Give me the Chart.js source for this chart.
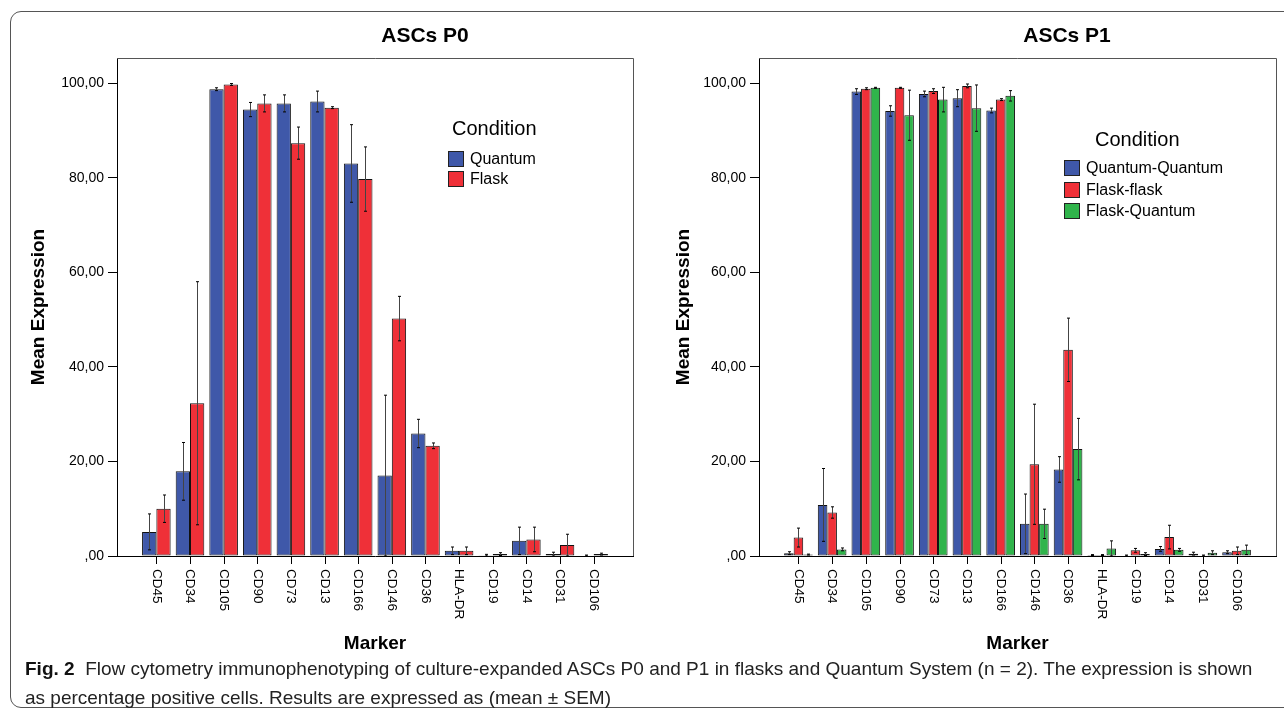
<!DOCTYPE html>
<html>
<head>
<meta charset="utf-8">
<script src="https://cdn.jsdelivr.net/npm/chart.js@4.4.1/dist/chart.umd.min.js"></script>
<style>
  body { margin: 0; background: #fff; width: 1284px; height: 715px; overflow: hidden; position: relative;
         font-family: "Liberation Sans", Arial, sans-serif; color: #000; }
  .frame { position: absolute; left: 10px; top: 11px; width: 1300px; height: 695px;
           border: 1px solid #555; border-radius: 11px; }
  canvas { position: absolute; top: 0; }
  #p0 { left: 0; }
  #p1 { left: 645px; }
  .title { position: absolute; top: 23px; font-weight: bold; font-size: 21px; line-height: 24px;
           transform: translateX(-50%); white-space: nowrap; }
  .lg { position: absolute; white-space: nowrap; }
  .lg-head { font-size: 20px; line-height: 20px; }
  .lg-text { font-size: 16px; line-height: 16px; }
  .lg-box { width: 14px; height: 14px; border: 1px solid #222; }
  .caption { position: absolute; left: 25px; top: 654px; font-family: "Liberation Sans Narrow", "Liberation Sans", sans-serif;
             font-size: 19px; line-height: 29px; color: #222; white-space: nowrap; }
  .caption b { color: #111; }
</style>
</head>
<body>
<div class="frame"></div>
<canvas id="p0" width="645" height="660"></canvas>
<canvas id="p1" width="639" height="660"></canvas>
<div class="title" style="left:425px">ASCs P0</div>
<div class="title" style="left:1067px">ASCs P1</div>
<div class="caption"><b>Fig. 2</b>&nbsp; Flow cytometry immunophenotyping of culture-expanded ASCs P0 and P1 in flasks and Quantum System (n = 2). The expression is shown<br>as percentage positive cells. Results are expressed as (mean ± SEM)</div>

<script>
// markers on the x axis (same for both panels)
const markers = ["CD45", "CD34", "CD105", "CD90", "CD73", "CD13", "CD166", "CD146", "CD36", "HLA-DR", "CD19", "CD14", "CD31", "CD106"];

// ASCs P0 — mean and SEM
const p0Quantum    = [5.1, 17.9, 98.7, 94.4, 95.7, 96.1, 83.0, 17.0, 25.9, 1.1, 0.15, 3.2, 0.4, 0.1];
const p0QuantumErr = [3.8, 6.1, 0.3, 1.5, 1.8, 2.2, 8.2, 17.0, 3.0, 0.8, 0.2, 2.9, 0.4, 0.1];
const p0Flask      = [10.0, 32.3, 99.7, 95.7, 87.3, 94.8, 79.7, 50.2, 23.3, 1.1, 0.4, 3.5, 2.3, 0.4];
const p0FlaskErr   = [2.9, 25.7, 0.2, 1.8, 3.4, 0.2, 6.8, 4.7, 0.6, 0.8, 0.3, 2.6, 2.3, 0.2];

// ASCs P1 — mean and SEM
const p1QQ    = [0.6, 10.8, 98.2, 94.1, 97.7, 96.8, 94.2, 6.8, 18.3, 0.2, 0.1, 1.5, 0.5, 0.8];
const p1QQErr = [0.3, 7.7, 0.6, 1.1, 0.6, 1.8, 0.5, 6.3, 2.7, 0.1, 0.1, 0.5, 0.3, 0.3];
const p1FF    = [3.9, 9.2, 98.8, 99.0, 98.3, 99.4, 96.5, 19.4, 43.6, 0.2, 1.2, 4.0, 0.1, 1.1];
const p1FFErr = [2.0, 1.2, 0.2, 0.1, 0.5, 0.4, 0.2, 12.7, 6.7, 0.1, 0.4, 2.5, 0.1, 0.8];
const p1FQ    = [0.3, 1.4, 99.0, 93.2, 96.5, 94.7, 97.3, 6.8, 22.6, 1.6, 0.4, 1.3, 0.7, 1.3];
const p1FQErr = [0.1, 0.3, 0.1, 5.3, 2.6, 4.9, 1.1, 3.1, 6.5, 1.6, 0.3, 0.3, 0.4, 1.0];

const yTicks = [0, 20, 40, 60, 80, 100];

const BLUE = "#3f58a9", RED = "#ef3038", GREEN = "#30b44b";

const fontFamily = '"Liberation Sans", Arial, sans-serif';
Chart.defaults.font.family = fontFamily;
Chart.defaults.color = "#000";

// mean ± SEM whiskers
const errorBars = {
  id: "errorBars",
  afterDatasetsDraw(chart) {
    const ctx = chart.ctx, y = chart.scales.y;
    ctx.save();
    chart.data.datasets.forEach((ds, i) => {
      const meta = chart.getDatasetMeta(i);
      meta.data.forEach((bar, j) => {
        const v = ds.data[j].y, e = ds.errors[j];
        const top = y.getPixelForValue(v + e);
        const bot = y.getPixelForValue(Math.max(0, v - e));
        const x = Math.round(bar.x) + 0.5;
        ctx.strokeStyle = "#444";
        ctx.lineWidth = 1;
        ctx.beginPath();
        ctx.moveTo(x, top); ctx.lineTo(x, bot);
        ctx.stroke();
        ctx.strokeStyle = "#000";
        ctx.beginPath();
        ctx.moveTo(x - 1.5, top); ctx.lineTo(x + 1.5, top);
        ctx.moveTo(x - 1.5, bot); ctx.lineTo(x + 1.5, bot);
        ctx.stroke();
      });
    });
    ctx.restore();
  }
};

// box round the plot area, x tick marks, and x labels reading downward
const plotFrame = {
  id: "plotFrame",
  afterDraw(chart) {
    const { ctx, chartArea: a } = chart;
    const xs = chart.scales.x;
    ctx.save();
    ctx.strokeStyle = "#555";
    ctx.lineWidth = 1;
    ctx.beginPath();
    ctx.moveTo(a.left, a.top + 0.5); ctx.lineTo(a.right + 0.5, a.top + 0.5);
    ctx.lineTo(a.right + 0.5, a.bottom);
    ctx.stroke();
    ctx.strokeStyle = "#000";
    ctx.beginPath();
    xs.ticks.forEach((t) => {
      const px = Math.round(xs.getPixelForValue(t.value)) + 0.5;
      ctx.moveTo(px, a.bottom); ctx.lineTo(px, a.bottom + 8);
    });
    ctx.stroke();
    ctx.fillStyle = "#000";
    ctx.font = "13.5px " + fontFamily;
    ctx.textAlign = "left";
    ctx.textBaseline = "middle";
    xs.ticks.forEach((t) => {
      const px = xs.getPixelForValue(t.value);
      ctx.save();
      ctx.translate(px, a.bottom + 13);
      ctx.rotate(Math.PI / 2);
      ctx.fillText(markers[t.value], 0, 0);
      ctx.restore();
    });
    ctx.restore();
  }
};

function fmt(v) {
  const s = v.toFixed(2).replace(".", ",");
  return v === 0 ? s.slice(1) : s;
}

function makePanel(id, series, yAxisWidth, padRight) {
  const datasets = series.map((s) => ({
    label: s.label,
    data: s.values.map((v, i) => ({ x: i, y: v })),
    errors: s.errors,
    backgroundColor: s.color,
    borderColor: "#111",
    borderWidth: 1,
    borderSkipped: false,
    categoryPercentage: 0.85,
    barPercentage: 1.0,
  }));
  return new Chart(document.getElementById(id), {
    type: "bar",
    data: { datasets },
    plugins: [errorBars, plotFrame],
    options: {
      responsive: false,
      animation: false,
      devicePixelRatio: 1,
      layout: { padding: { top: 58, right: padRight, left: 0, bottom: 0 } },
      plugins: { legend: { display: false }, tooltip: { enabled: false } },
      scales: {
        x: {
          type: "linear",
          offset: false,
          min: -1.17,
          max: markers.length - 1 + 1.17,
          afterBuildTicks: (s) => { s.ticks = markers.map((_, i) => ({ value: i })); },
          afterFit: (s) => { s.height = 104; },
          ticks: { color: "rgba(0,0,0,0)", autoSkip: false, minRotation: 90, maxRotation: 90,
                   callback: (v) => markers[v] },
          grid: { display: false },
          border: { display: true, color: "#000", width: 1 },
          title: { display: true, text: "Marker", font: { size: 19, weight: "bold" },
                   padding: { top: 0, bottom: 5 } },
        },
        y: {
          min: 0,
          max: 105.3,
          afterBuildTicks: (s) => { s.ticks = yTicks.map((v) => ({ value: v })); },
          afterFit: (s) => { s.width = yAxisWidth; },
          ticks: { font: { size: 14 }, padding: 4, callback: (v) => fmt(v) },
          grid: { drawOnChartArea: false, drawTicks: true, tickLength: 9, color: "#000" },
          border: { color: "#000", width: 1 },
          title: { display: true, text: "Mean Expression", font: { size: 19, weight: "bold" },
                   padding: { top: 27, bottom: 0 } },
        },
      },
    },
  });
}

const p0Series = [
  { label: "Quantum", values: p0Quantum, errors: p0QuantumErr, color: BLUE },
  { label: "Flask", values: p0Flask, errors: p0FlaskErr, color: RED },
];
const p1Series = [
  { label: "Quantum-Quantum", values: p1QQ, errors: p1QQErr, color: BLUE },
  { label: "Flask-flask", values: p1FF, errors: p1FFErr, color: RED },
  { label: "Flask-Quantum", values: p1FQ, errors: p1FQErr, color: GREEN },
];

makePanel("p0", p0Series, 117, 12);
makePanel("p1", p1Series, 114, 8);

// legends inside the plot areas
function addLegend(series, headX, headY, boxX, boxY, step) {
  const head = document.createElement("div");
  head.className = "lg lg-head";
  head.style.left = headX + "px";
  head.style.top = headY + "px";
  head.textContent = "Condition";
  document.body.appendChild(head);
  series.forEach((s, i) => {
    const box = document.createElement("div");
    box.className = "lg lg-box";
    box.style.left = boxX + "px";
    box.style.top = (boxY + i * step) + "px";
    box.style.background = s.color;
    document.body.appendChild(box);
    const t = document.createElement("div");
    t.className = "lg lg-text";
    t.style.left = (boxX + 22) + "px";
    t.style.top = (boxY + i * step) + "px";
    t.textContent = s.label;
    document.body.appendChild(t);
  });
}
addLegend(p0Series, 452, 118, 448, 151, 20);
addLegend(p1Series, 1095, 129, 1064, 160, 21.5);
</script>
</body>
</html>
